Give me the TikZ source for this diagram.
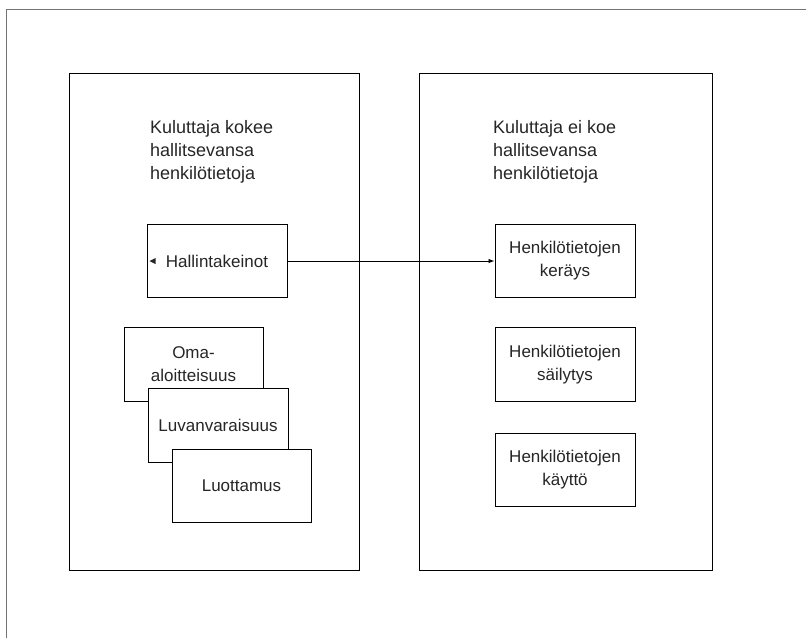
\documentclass[tikz,border=0pt]{standalone}
\usepackage{fontspec}
\setmainfont{Liberation Sans}
\usetikzlibrary{arrows.meta,positioning}

\begin{document}
\begin{tikzpicture}[x=1pt, y=-1pt, >={Latex[length=6pt,width=4.5pt]},
    area/.style={draw, line width=1.1pt, minimum width=290pt, minimum height=497pt, anchor=north west, inner sep=0pt},
    title/.style={anchor=north west, align=left, inner sep=0pt, text=black!85, font=\fontsize{18}{23}\selectfont},
    item/.style={draw, line width=1pt, fill=white, minimum width=140pt, minimum height=73pt, align=center,
      text=black!85, font=\fontsize{17}{23}\selectfont}]

  \useasboundingbox (0,0) rectangle (806,638);
  \draw[black!55] (806,9) -- (6,9) -- (6,638);

  % the two areas
  \node[area] (left) at (69,73) {};
  \node[area, minimum width=293pt] (right) at (419,73) {};

  \node[title] (lt) at (150,120) {Kuluttaja kokee\\hallitsevansa\\henkilötietoja};
  \node[title] (rt) at (493,120) {Kuluttaja ei koe\\hallitsevansa\\henkilötietoja};

  % left column
  \node[item] (hal) at (217,261) {Hallintakeinot};
  \node[item, minimum width=139pt, minimum height=74pt] (oma) at (193.5,364) {Oma-\\aloitteisuus};
  \node[item, minimum height=74pt] (luv) at (218,425) {Luvanvaraisuus};
  \node[item, minimum width=139pt] (luo) at (241.5,485.5) {Luottamus};
  \fill[black!85] ([xshift=3pt]hal.west) -- ++(6pt,-3pt) -- ++(0,6pt) -- cycle;

  % right column
  \node[item] (ker) at (565,261) {Henkilötietojen\\keräys};
  \node[item, minimum height=74pt, below=29pt of ker] (sai) {Henkilötietojen\\säilytys};
  \node[item, below=31pt of sai] (kay) {Henkilötietojen\\käyttö};

  \draw[->, line width=0.9pt] (hal) -- (ker);
\end{tikzpicture}
\end{document}
